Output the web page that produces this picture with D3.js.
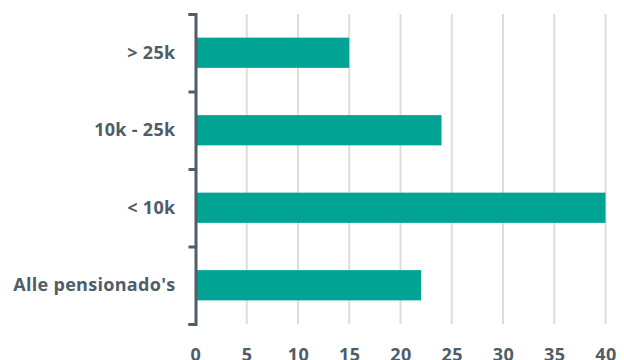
<!DOCTYPE html>
<html><head><meta charset="utf-8">
<script src="https://cdn.jsdelivr.net/npm/d3@7"></script>
<style>body{margin:0;background:#fff}svg{display:block}</style>
</head><body>
<svg id="c" width="624" height="360"></svg>
<script>
const categories = ["> 25k", "10k - 25k", "< 10k", "Alle pensionado's"];
const values = [15, 24, 40, 22];
const xTicks = [0, 5, 10, 15, 20, 25, 30, 35, 40];

const svg = d3.select("#c");
const m = {left: 195.5, right: 605.5, top: 14, bottom: 324};
const x = d3.scaleLinear().domain([0, 40]).range([m.left, m.right]);
const y = d3.scaleBand().domain(categories).range([m.top, m.bottom]).paddingInner(0.61).paddingOuter(0.305);
const font = "'Open Sans', sans-serif";
const txt = "#4f5d68";

// grid
svg.append("g").selectAll("line").data(xTicks.filter(d => d > 0)).join("line")
  .attr("x1", d => x(d)).attr("x2", d => x(d)).attr("y1", m.top).attr("y2", m.bottom)
  .attr("stroke", "#dddddd").attr("stroke-width", 2);

// bars
svg.append("g").selectAll("rect").data(categories).join("rect")
  .attr("x", x(0)).attr("y", d => y(d))
  .attr("width", (d, i) => x(values[i]) - x(0)).attr("height", y.bandwidth())
  .attr("fill", "#00a394");

// x axis labels
const xa = svg.append("g").attr("transform", `translate(0,${m.bottom})`)
  .call(d3.axisBottom(x).tickValues(xTicks).tickSize(0).tickPadding(24));
xa.select(".domain").remove();
xa.selectAll("text").attr("font-family", font).attr("font-weight", "bold").attr("font-size", 18).attr("letter-spacing", 0.5).attr("fill", txt);

// y axis labels
const ya = svg.append("g").attr("transform", `translate(${m.left - 20},0)`)
  .call(d3.axisLeft(y).tickSize(0).tickPadding(0));
ya.select(".domain").remove();
ya.selectAll("text").attr("font-family", font).attr("font-weight", "bold").attr("font-size", 18).attr("letter-spacing", 0.3).attr("fill", txt);

// left axis line with boundary ticks
const yb = d3.scaleLinear().domain([0, categories.length]).range([m.top, m.bottom]);
const la = svg.append("g").attr("transform", `translate(${m.left},0)`)
  .call(d3.axisLeft(yb).ticks(categories.length).tickSize(7).tickSizeOuter(7).tickFormat(""));
la.select(".domain").attr("stroke", txt).attr("stroke-width", 3);
la.selectAll(".tick line").attr("stroke", txt).attr("stroke-width", 3);
</script>
</body></html>
